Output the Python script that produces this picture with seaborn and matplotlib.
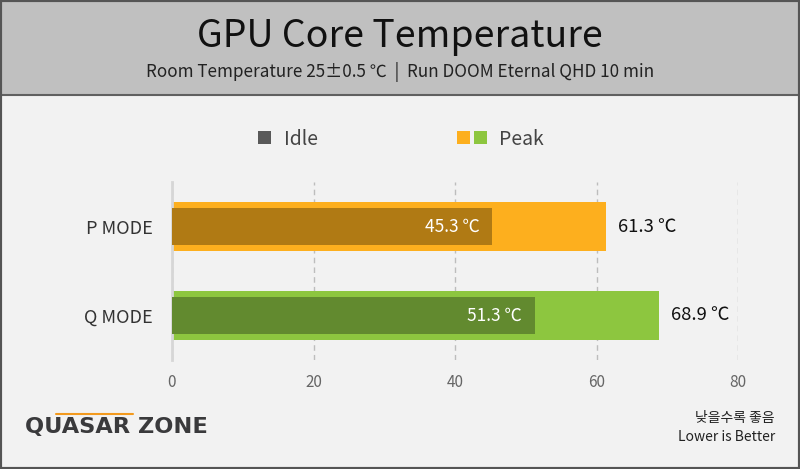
import matplotlib
matplotlib.use("Agg")
import matplotlib.pyplot as plt
from matplotlib.patches import Rectangle
import seaborn as sns
import pandas as pd

modes = ["P MODE", "Q MODE"]
idle = [45.3, 51.3]
peak = [61.3, 68.9]
peak_colors = ["#FDAF1E", "#8DC63F"]
idle_colors = ["#B07A14", "#628A2F"]

sns.set_theme(style="white")
plt.rcParams['font.family'] = ['Noto Sans CJK KR', 'DejaVu Sans']

df = pd.DataFrame({"mode": modes, "idle": idle, "peak": peak})

W, H = 800, 469
fig = plt.figure(figsize=(W / 100, H / 100), dpi=100, facecolor="#f2f2f2")

# header band
fig.patches.append(Rectangle((0, 1 - 95 / H), 1, 95 / H, transform=fig.transFigure,
                             facecolor="#c0c0c0", edgecolor="none", zorder=0))
fig.add_artist(plt.Line2D([0, 1], [1 - 95 / H] * 2, transform=fig.transFigure,
                          color="#606060", lw=1.5))
fig.patches.append(Rectangle((0, 0), 1, 1, transform=fig.transFigure, fill=False,
                             edgecolor="#555555", lw=3, zorder=10))

fig.text(0.5, 1 - 37 / H, "GPU Core Temperature", ha="center", va="center",
         fontsize=27, color="#111111")
fig.text(0.5, 1 - 72 / H, "Room Temperature 25±0.5 ℃  |  Run DOOM Eternal QHD 10 min",
         ha="center", va="center", fontsize=12.3, color="#222222")

ax = fig.add_axes([172 / W, 109 / H, (738 - 172) / W, (360 - 182) / H])
ax.set_facecolor("#f2f2f2")

sns.barplot(data=df, y="mode", x="peak", hue="mode", palette=peak_colors,
            width=0.55, dodge=False, legend=False, saturation=1, linewidth=0,
            ax=ax, zorder=2)
sns.barplot(data=df, y="mode", x="idle", hue="mode", palette=idle_colors,
            width=0.415, dodge=False, legend=False, saturation=1, linewidth=0,
            ax=ax, zorder=3)

ax.set_xlim(0, 80)
ax.set_ylim(1.5, -0.5)
ax.set_xticks([0, 20, 40, 60, 80])
ax.set_xlabel("")
ax.set_ylabel("")
ax.grid(axis="x", linestyle=(0, (4, 3)), color="#bdbdbd", lw=1, zorder=0)
ax.set_axisbelow(True)
for s in ["top", "right", "bottom"]:
    ax.spines[s].set_visible(False)
ax.spines["left"].set_color("#d6d6d6")
ax.spines["left"].set_linewidth(2)
ax.tick_params(axis="x", length=0, pad=10, labelsize=11, labelcolor="#666666")
ax.tick_params(axis="y", length=0, pad=14, labelsize=13, labelcolor="#333333")

for i in range(len(modes)):
    ax.text(idle[i] - 1.8, i, f"{idle[i]} ℃", ha="right", va="center",
            color="white", fontsize=12.5, zorder=5)
    ax.text(peak[i] + 1.7, i, f"{peak[i]} ℃", ha="left", va="center",
            color="#111111", fontsize=13.3, zorder=5)

# legend
def square(x, y, c):
    fig.patches.append(Rectangle((x / W, 1 - (y + 13) / H), 13 / W, 13 / H,
                                 transform=fig.transFigure, facecolor=c, edgecolor="none"))

square(258, 131, "#595959")
fig.text(284 / W, 1 - 139 / H, "Idle", ha="left", va="center", fontsize=14, color="#444444")
square(457, 131, peak_colors[0])
square(474, 131, peak_colors[1])
fig.text(499 / W, 1 - 139 / H, "Peak", ha="left", va="center", fontsize=14, color="#444444")

# logo
fig.text(25 / W, 1 - 427 / H, "QUASAR ZONE", ha="left", va="center", fontsize=16.2,
         fontweight="bold", color="#3a3a3c", family=["DejaVu Sans"])
fig.add_artist(plt.Line2D([56 / W, 133 / W], [1 - 414 / H] * 2, transform=fig.transFigure,
                          color="#F39A1E", lw=1.5))

fig.text(775 / W, 1 - 418 / H, "낮을수록 좋음", ha="right", va="center", fontsize=10, color="#222222")
fig.text(775 / W, 1 - 437 / H, "Lower is Better", ha="right", va="center", fontsize=10, color="#222222")

fig.savefig("out.png", dpi=100, facecolor=fig.get_facecolor())
